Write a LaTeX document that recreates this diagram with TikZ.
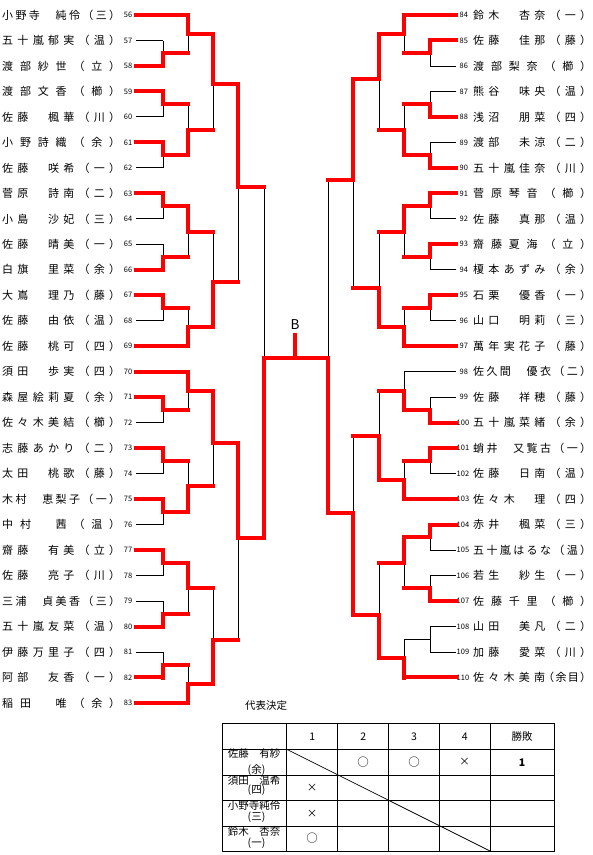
\documentclass[tikz,border=0pt]{standalone}
\usepackage{fontspec}
\setmainfont{Noto Sans CJK JP}
\pgfdeclarelayer{bg}
\pgfsetlayers{bg,main}
\ExplSyntaxOn
\NewDocumentCommand\spread{mm}{
  \tl_set:Nx \l_tmpa_tl {#2}
  \hbox_to_wd:nn {#1} { \tl_map_inline:Nn \l_tmpa_tl {##1\hfill} \unskip }
}
\ExplSyntaxOff
\newcommand\mtch[6]{%
  \begin{pgfonlayer}{bg}\draw[bk] (#1,#2) -- (#1,#3);\end{pgfonlayer}%
  \ifx#6t\draw[rd] (#1,#2) -- (#1,#4) -- (#5,#4);\fi
  \ifx#6b\draw[rd] (#1,#3) -- (#1,#4) -- (#5,#4);\fi
  \ifx#6n\begin{pgfonlayer}{bg}\draw[bk] (#1,#4) -- (#5,#4);\end{pgfonlayer}\fi
}
\tikzset{
  nm/.style={inner sep=0pt, font=\fontsize{11}{11}\selectfont},
  num/.style={inner sep=0pt, font=\fontsize{7.5}{8}\selectfont},
  rd/.style={draw=red, line width=4pt, line cap=rect, line join=miter},
  bk/.style={draw=black, line width=0.9pt},
  tb/.style={draw=black, line width=0.9pt},
  tx/.style={inner sep=0pt, font=\fontsize{10.5}{10.5}\selectfont},
  cir/.style={inner sep=0pt, font=\fontsize{11.5}{11.5}\selectfont},
}
\begin{document}
\begin{tikzpicture}[x=1pt,y=-1pt]
\useasboundingbox (0,0) rectangle (593,855);
\begin{pgfonlayer}{bg}
\fill[white] (0,0) rectangle (593,855);
\end{pgfonlayer}

% ---------- left labels ----------
\foreach \n/\t in {56/小野寺　純伶（三）,57/五十嵐郁実（温）,58/渡部紗世（立）,59/渡部文香（櫛）,
 60/佐藤　楓華（川）,61/小野詩織（余）,62/佐藤　咲希（一）,63/菅原　詩南（二）,64/小島　沙妃（三）,
 65/佐藤　晴美（一）,66/白旗　里菜（余）,67/大嶌　理乃（藤）,68/佐藤　由依（温）,69/佐藤　桃可（四）,
 70/須田　歩実（四）,71/森屋絵莉夏（余）,72/佐々木美結（櫛）,73/志藤あかり（二）,74/太田　桃歌（藤）,
 75/木村　恵梨子（一）,76/中村　茜（温）,77/齋藤　有美（立）,78/佐藤　亮子（川）,79/三浦　貞美香（三）,
 80/五十嵐友菜（温）,81/伊藤万里子（四）,82/阿部　友香（一）,83/稲田　唯（余）}{
  \pgfmathsetmacro\yy{15+(\n-56)*25.48}
  \node[nm,anchor=west] (n\n) at (2,\yy) {\spread{118pt}{\t}};
  \node[num,anchor=east] (k\n) at (132.5,\yy) {\n};
}
% ---------- right labels ----------
\foreach \n/\t in {84/鈴木　杏奈（一）,85/佐藤　佳那（藤）,86/渡部梨奈（櫛）,87/熊谷　味央（温）,
 88/浅沼　朋菜（四）,89/渡部　未涼（二）,90/五十嵐佳奈（川）,91/菅原琴音（櫛）,92/佐藤　真那（温）,
 93/齋藤夏海（立）,94/榎本あずみ（余）,95/石栗　優香（一）,96/山口　明莉（三）,97/萬年実花子（藤）,
 98/佐久間　優衣（二）,99/佐藤　祥穂（藤）,100/五十嵐菜緒（余）,101/蛸井　又覧古（一）,
 102/佐藤　日南（温）,103/佐々木　理（四）,104/赤井　楓菜（三）,105/五十嵐はるな（温）,
 106/若生　紗生（一）,107/佐藤千里（櫛）,108/山田　美凡（二）,109/加藤　愛菜（川）}{
  \pgfmathsetmacro\yy{15+(\n-84)*25.48}
  \node[nm,anchor=west] (n\n) at (473,\yy) {\spread{118pt}{\t}};
}
\node[nm,anchor=west] (n110) at (473,677.5) {\spread{72pt}{佐々木美南}\hspace*{-2pt}\spread{48pt}{（余目）}};
\foreach \n in {84,...,99}{
  \pgfmathsetmacro\yy{15+(\n-84)*25.48}
  \node[num,anchor=west] (k\n) at (459.5,\yy) {\n};
}
\foreach \n in {100,...,110}{
  \pgfmathsetmacro\yy{15+(\n-84)*25.48}
  \node[num,anchor=west] (k\n) at (456.5,\yy) {\n};
}

% ---------- leaves ----------
\begin{pgfonlayer}{bg}
\foreach \n in {57,60,62,64,65,68,72,74,76,78,79,81}{
  \pgfmathsetmacro\yy{15+(\n-56)*25.48}
  \draw[bk] (136,\yy) -- (163,\yy);
}
\foreach \n/\x in {86/430,87/430,89/430,92/430,94/430,96/430,99/430,102/430,105/430,106/430,108/430,109/430,98/404}{
  \pgfmathsetmacro\yy{15+(\n-84)*25.48}
  \draw[bk] (456,\yy) -- (\x,\yy);
}
\end{pgfonlayer}
\foreach \n/\x in {56/188,58/163,59/163,61/163,63/163,66/163,67/163,69/188,70/188,71/163,73/163,75/163,77/163,80/163,82/163,83/188}{
  \pgfmathsetmacro\yy{15+(\n-56)*25.48}
  \draw[rd] (136,\yy) -- (\x,\yy);
}
\foreach \n/\x in {84/404,85/430,88/430,90/430,91/430,93/430,95/430,97/404,100/430,101/430,103/404,104/430,107/430,110/404}{
  \pgfmathsetmacro\yy{15+(\n-84)*25.48}
  \draw[rd] (456,\yy) -- (\x,\yy);
}

% ---------- left matches ----------
\mtch{163}{40.5}{66}{53.2}{188}{b}
\mtch{163}{91.4}{116.9}{104.1}{188}{t}
\mtch{163}{142.4}{167.9}{155.1}{188}{t}
\mtch{163}{193.4}{218.8}{206.1}{188}{t}
\mtch{163}{244.3}{269.8}{257}{188}{b}
\mtch{163}{295.3}{320.8}{308}{188}{t}
\mtch{163}{397.2}{422.7}{410}{188}{t}
\mtch{163}{448.2}{473.6}{460.9}{188}{t}
\mtch{163}{499.1}{524.6}{511.8}{188}{t}
\mtch{163}{550.1}{575.6}{562.8}{188}{t}
\mtch{163}{601}{626.5}{613.8}{188}{b}
\mtch{163}{652}{677.5}{664.8}{188}{b}
\mtch{188}{15}{53.2}{34.1}{213}{t}
\mtch{188}{104.1}{155.1}{129.6}{213}{b}
\mtch{188}{206.1}{257}{231.6}{213}{t}
\mtch{188}{308}{346.2}{327.1}{213}{b}
\mtch{188}{371.7}{410}{390.8}{213}{t}
\mtch{188}{460.9}{511.8}{486.4}{213}{b}
\mtch{188}{562.8}{613.8}{588.3}{213}{t}
\mtch{188}{664.8}{703}{683.9}{213}{b}
\mtch{213}{34.1}{129.6}{84}{238}{t}
\mtch{213}{231.6}{327.1}{282}{238}{b}
\mtch{213}{390.8}{486.4}{443}{238}{t}
\mtch{213}{588.3}{683.9}{640}{238}{b}
\mtch{238}{84}{282}{187}{264}{t}
\mtch{238}{443}{640}{538}{264}{t}
\mtch{264}{187}{538}{358}{295}{b}

% ---------- right matches ----------
\mtch{430}{40.5}{66}{53.2}{404}{t}
\mtch{430}{91.4}{116.9}{104.1}{404}{b}
\mtch{430}{142.4}{167.9}{155.1}{404}{b}
\mtch{430}{193.4}{218.8}{206.1}{404}{t}
\mtch{430}{244.3}{269.8}{257}{404}{t}
\mtch{430}{295.3}{320.8}{308}{404}{t}
\mtch{430}{397.2}{422.7}{410}{404}{b}
\mtch{430}{448.2}{473.6}{460.9}{404}{t}
\mtch{430}{524.6}{550.1}{537.3}{404}{t}
\mtch{430}{575.6}{601}{588.3}{404}{b}
\mtch{430}{626.5}{652}{639.3}{404}{n}
\mtch{404}{15}{53.2}{34.1}{379}{t}
\mtch{404}{104.1}{155.1}{129.6}{379}{b}
\mtch{404}{206.1}{257}{231.6}{379}{t}
\mtch{404}{308}{346.2}{327.1}{379}{b}
\mtch{404}{371.7}{410}{390.8}{379}{b}
\mtch{404}{460.9}{499.1}{480}{379}{b}
\mtch{404}{537.3}{588.3}{562.8}{379}{t}
\mtch{404}{639.3}{677.5}{658.4}{379}{b}
\mtch{379}{34.1}{129.6}{79}{353}{t}
\mtch{379}{231.6}{327.1}{288}{353}{b}
\mtch{379}{390.8}{480}{436}{353}{b}
\mtch{379}{562.8}{658.4}{615}{353}{b}
\mtch{353}{79}{288}{180}{328}{t}
\mtch{353}{436}{615}{513}{328}{b}
\mtch{328}{180}{513}{358}{295}{b}

% ---------- centre ----------
\coordinate (top) at (295,335);
\coordinate (mid) at (295,358);
\draw[rd] (mid) -- (top);
\node[inner sep=0pt, font=\fontsize{13.5}{14}\selectfont] (blk) at (295,324.5) {B};

% ---------- table ----------
\node[inner sep=0pt, font=\fontsize{10.5}{11}\selectfont] (ttl) at (266,706) {代表決定};
\draw[tb] (222.7,723.3) rectangle (554,851);
\foreach \x in {286.7,337.7,388.7,439.3,490}{\draw[tb] (\x,723.3) -- (\x,851);}
\foreach \y in {749.3,775,800.7,826}{\draw[tb] (222.7,\y) -- (554,\y);}
\draw[line width=0.7pt] (286.7,749.3) -- (490,851);
\node[tx] (h1) at (312.2,736.3) {1};
\node[tx] (h2) at (363.2,736.3) {2};
\node[tx] (h3) at (414,736.3) {3};
\node[tx] (h4) at (464.7,736.3) {4};
\node[tx] (h5) at (522,736.3) {勝敗};
\node[tx] (p1a) at (254,754) {佐藤　有紗};
\node[tx] (p1b) at (256.5,770) {(余)};
\node[tx] (p2a) at (254,780) {須田　温希};
\node[tx] (p2b) at (256.5,790.5) {(四)};
\node[tx] (p3a) at (254,806) {小野寺純伶};
\node[tx] (p3b) at (256.5,817) {(三)};
\node[tx] (p4a) at (254,831.5) {鈴木　杏奈};
\node[tx] (p4b) at (256.5,843) {(一)};
\node[cir] (r12) at (363.2,762.2) {○};
\node[cir] (r13) at (414,762.2) {○};
\node[tx] (r14) at (464.7,762.2) {×};
\node[tx] (r15) at (522,762.2) {\textbf{1}};
\node[tx] (r21) at (312.2,787.9) {×};
\node[tx] (r31) at (312.2,813.4) {×};
\node[cir] (r41) at (312.2,838.5) {○};
\end{tikzpicture}
\end{document}
